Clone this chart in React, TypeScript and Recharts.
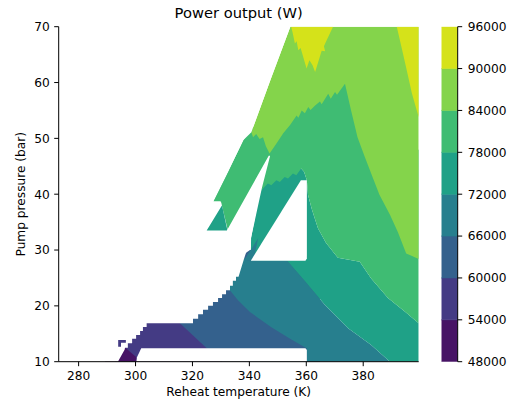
import React from "react";
import { ComposedChart, Scatter, XAxis, YAxis, ReferenceArea } from "recharts";

const FONT = "DejaVu Sans";

// contour levels (W) and the viridis colour of each filled band
const LEVELS = [48000, 54000, 60000, 66000, 72000, 78000, 84000, 90000, 96000];
const BAND_COLORS = ["#471365", "#443b84", "#34618d", "#277f8e", "#1fa187", "#3fbc73", "#84d44b", "#d5e21a"];
const NAN_COLOR = "#ffffff";

const T_DOMAIN: [number, number] = [273, 399.5];
const P_DOMAIN: [number, number] = [10, 70];
const T_TICKS = [280, 300, 320, 340, 360, 380];
const P_TICKS = [10, 20, 30, 40, 50, 60, 70];

type Pt = [number, number]; // [reheat temperature K, pump pressure bar]

// band outlines, painted in order (later ones on top)
const BAND1_BASE: Pt[] = [[292.8, 17.8], [322.6, 17.8], [330.4, 10], [292.8, 10]];
const BAND0: Pt[] = [[289.3, 13.0], [296.6, 12.4], [300.3, 10.8], [300.3, 10], [289.3, 10]];
const BAND2: Pt[] = [[315.6, 16.9], [315.6, 21.1], [340.2, 30.0], [364.8, 30.0], [364.8, 10], [330.1, 10]];
const BAND3: Pt[] = [
  [338.1, 28.6], [331.4, 24.6], [332.8, 23.0], [336.0, 21.0], [340.2, 18.9], [347.6, 16.2],
  [354.3, 14.1], [360.1, 12.4], [360.2, 10], [389.4, 10], [382.8, 13.0], [374.7, 16.0],
  [366.5, 20.2], [359.4, 24.5], [353.3, 28.1], [339.5, 28.1],
];
const BAND4: Pt[] = [
  [340.5, 28.1], [353.3, 28.1], [359.4, 24.5], [366.5, 20.2], [374.7, 16.0], [382.8, 13.0],
  [389.4, 10], [399.5, 10], [399.5, 16.9], [394.6, 19.0], [388.7, 21.4], [382.8, 24.9],
  [378.8, 27.9], [371.1, 28.6], [366.9, 31.3], [364.1, 33.9], [362.0, 37.2], [360.6, 39.9],
  [360.2, 42.5], [359.2, 44.0], [358.2, 44.6], [358.2, 46.1], [344.4, 46.1], [342.3, 36.8],
  [340.6, 32.2],
];
const BAND5: Pt[] = [
  [399.5, 16.9], [399.5, 47.9], [373.6, 60.5], [340.7, 51.9], [337.9, 49.7], [332.5, 44.0],
  [327.3, 38.7], [330.0, 38.7], [332.5, 33.4], [344.8, 41.0], [346.5, 41.9], [347.7, 41.6],
  [349.5, 42.5], [350.7, 42.2], [352.4, 43.1], [353.6, 42.8], [355.3, 43.7], [356.5, 43.4],
  [358.2, 44.6], [359.2, 44.0], [360.2, 42.5], [360.6, 39.9], [362.0, 37.2], [364.1, 33.9],
  [366.9, 31.3], [371.1, 28.6], [378.8, 27.9], [382.8, 24.9], [388.7, 21.4], [394.6, 19.0],
];
const BAND6: Pt[] = [
  [354.4, 70], [399.5, 70], [399.5, 28.4], [395.1, 29.4], [392.2, 33.2], [389.4, 36.3],
  [385.7, 39.9], [382.8, 43.7], [380.3, 47.0], [378.0, 50.2], [375.7, 55.1], [373.6, 59.8],
  [370.8, 57.8], [370.1, 58.3], [368.6, 57.1], [367.7, 58.0], [365.4, 56.1], [364.8, 56.6],
  [363.1, 55.9], [361.5, 55.1], [360.7, 55.6], [359.5, 54.5], [358.4, 55.0], [357.2, 53.7],
  [356.6, 54.1], [354.3, 52.4], [351.9, 50.9], [349.4, 49.0], [347.1, 47.3], [345.8, 48.6],
  [344.8, 50.2], [343.6, 49.9], [342.4, 50.8], [341.3, 50.2], [340.7, 51.1], [347.5, 60.6],
];
const BAND7_TOP: Pt[] = [
  [354.7, 70], [355.3, 68.7], [356.0, 67.0], [356.6, 67.4], [357.2, 65.8], [358.0, 66.2],
  [358.9, 64.6], [360.1, 62.5], [361.1, 64.0], [362.2, 63.1], [363.1, 61.9], [364.2, 63.7],
  [365.4, 65.7], [366.6, 65.6], [366.2, 66.5], [367.2, 67.6], [369.4, 70],
];
const BAND7_RIGHT: Pt[] = [[391.8, 70], [393.3, 66.7], [395.3, 62.2], [397.1, 58.1], [399.5, 53.8], [399.5, 70]];
const BAND4_ISLAND: Pt[] = [[330.3, 38.2], [332.3, 33.5], [332.3, 33.1], [322.6, 33.1], [327.9, 38.2]];
const BAND3_SPIKE: Pt[] = [[338.0, 28.1], [343.1, 32.1], [342.0, 29.5], [342.6, 28.1]];
const BAND1_SPECK: Pt[] = [[293.9, 13.9], [296.6, 13.9], [296.6, 13.4], [294.9, 13.4], [294.9, 12.7], [293.9, 12.7]];

// regions where the model gave no result (left blank)
const NAN_LEFT: Pt[] = [
  [273, 70], [354.4, 70], [347.5, 60.6], [340.7, 51.1], [337.9, 49.7], [332.5, 44.0],
  [327.3, 38.7], [329.7, 38.7], [330.4, 38.0], [325.0, 33.5], [332.1, 33.5], [346.8, 46.9],
  [347.3, 46.9], [344.4, 41.1], [340.6, 32.2], [338.1, 28.4], [336.2, 25.2], [335.3, 25.2],
  [335.3, 24.5], [334.2, 24.5], [334.2, 23.6], [333.2, 23.6], [333.2, 22.8], [331.8, 22.8],
  [331.8, 22.1], [330.4, 22.1], [330.4, 21.4], [329.0, 21.4], [329.0, 20.7], [327.2, 20.7],
  [327.2, 20.0], [325.5, 20.0], [325.5, 19.3], [323.7, 19.3], [323.7, 18.5], [322.0, 18.5],
  [322.0, 17.7], [320.2, 17.7], [320.2, 16.9], [303.9, 16.9], [303.9, 16.2], [302.6, 16.2],
  [302.6, 15.5], [301.6, 15.5], [301.6, 14.8], [300.2, 14.8], [300.2, 14.1], [298.8, 14.1],
  [298.8, 13.3], [297.3, 13.3], [297.3, 12.5], [296.3, 12.5], [296.2, 12.2], [293.8, 10],
  [273, 10],
];
const NAN_HOLE: Pt[] = [[340.5, 28.1], [358.1, 42.5], [360.2, 42.5], [360.2, 28.5], [359.7, 28.1]];
const NAN_STRIP: Pt[] = [[302.0, 12.4], [359.7, 12.4], [360.2, 12.1], [360.2, 10], [300.3, 10], [300.5, 10.8]];

// band index per layer, -1 = no data
const LAYERS: { name: string; band: number; pts: Pt[] }[] = [
  { name: "b1", band: 1, pts: BAND1_BASE },
  { name: "b0", band: 0, pts: BAND0 },
  { name: "b2", band: 2, pts: BAND2 },
  { name: "b3", band: 3, pts: BAND3 },
  { name: "b4", band: 4, pts: BAND4 },
  { name: "b5", band: 5, pts: BAND5 },
  { name: "b6", band: 6, pts: BAND6 },
  { name: "b7a", band: 7, pts: BAND7_TOP },
  { name: "b7b", band: 7, pts: BAND7_RIGHT },
  { name: "b4i", band: 4, pts: BAND4_ISLAND },
  { name: "b3s", band: 3, pts: BAND3_SPIKE },
  { name: "nanLeft", band: -1, pts: NAN_LEFT },
  { name: "nanHole", band: -1, pts: NAN_HOLE },
  { name: "nanStrip", band: -1, pts: NAN_STRIP },
  { name: "b1s", band: 1, pts: BAND1_SPECK },
];

// colorbar: one rectangle per band between consecutive levels
const CB_BANDS = BAND_COLORS.map((color, i) => ({
  color,
  pts: [
    { x: 0, y: LEVELS[i] },
    { x: 1, y: LEVELS[i] },
    { x: 1, y: LEVELS[i + 1] },
    { x: 0, y: LEVELS[i + 1] },
  ],
}));

const tickStyle = { fill: "#000", fontSize: 12.2, fontFamily: FONT };
const spine = { stroke: "#000", strokeWidth: 1 };
const noPoint = () => <g />;

const YTitle = (props: any) => {
  const vb = props.viewBox;
  const x = vb.x + 16.8;
  const y = vb.y + vb.height / 2;
  return (
    <text x={x} y={y} transform={`rotate(-90 ${x} ${y})`} textAnchor="middle" fill="#000" fontSize={12.2} fontFamily={FONT}>
      Pump pressure (bar)
    </text>
  );
};

export default function App() {
  return (
    <div style={{ position: "absolute", left: 0, top: 0, width: 512, height: 405, background: "#fff" }}>
      <div style={{ position: "absolute", left: 0, top: 0 }}>
        <ComposedChart width={512} height={405} margin={{ top: 26.7, right: 93.3, bottom: 7.3, left: 8.7 }}>
          {LAYERS.map((layer) => {
            const color = layer.band < 0 ? NAN_COLOR : BAND_COLORS[layer.band];
            return (
              <Scatter
                key={layer.name}
                data={layer.pts.map(([t, p]) => ({ t, p }))}
                dataKey="p"
                fill={color}
                line={{ fill: color, stroke: "none" }}
                shape={noPoint}
                legendType="none"
                isAnimationActive={false}
                zIndex={0}
              />
            );
          })}
          <XAxis
            dataKey="t"
            type="number"
            domain={T_DOMAIN}
            ticks={T_TICKS}
            allowDataOverflow
            height={36}
            tick={tickStyle}
            tickSize={4.5}
            tickMargin={5.5}
            axisLine={spine}
            tickLine={spine}
            label={{ value: "Reheat temperature (K)", position: "insideBottom", offset: 1.9, fill: "#000", fontSize: 12.2, fontFamily: FONT }}
          />
          <XAxis xAxisId="top" orientation="top" type="number" domain={T_DOMAIN} allowDataOverflow height={0} tick={false} tickLine={false} axisLine={spine} />
          <YAxis
            dataKey="p"
            type="number"
            domain={P_DOMAIN}
            ticks={P_TICKS}
            allowDataOverflow
            width={50}
            tick={tickStyle}
            tickSize={4.5}
            tickMargin={4.5}
            axisLine={spine}
            tickLine={spine}
            label={<YTitle />}
          />
          <YAxis yAxisId="right" orientation="right" type="number" domain={P_DOMAIN} allowDataOverflow width={0} tick={false} tickLine={false} axisLine={spine} />
          <ReferenceArea
            x1={T_DOMAIN[0]}
            x2={T_DOMAIN[1]}
            y1={P_DOMAIN[0]}
            y2={P_DOMAIN[1]}
            fill="none"
            stroke="none"
            ifOverflow="visible"
            label={{ value: "Power output (W)", position: "top", offset: 8.5, fill: "#000", fontSize: 14.7, fontFamily: FONT }}
          />
        </ComposedChart>
      </div>
      <div style={{ position: "absolute", left: 0, top: 0 }}>
        <ComposedChart width={512} height={405} margin={{ top: 26.7, right: 0, bottom: 43.3, left: 441.3 }}>
          {CB_BANDS.map((b) => (
            <Scatter
              key={b.color}
              data={b.pts}
              dataKey="y"
              fill={b.color}
              line={{ fill: b.color, stroke: b.color, strokeWidth: 0.6 }}
              shape={noPoint}
              legendType="none"
              isAnimationActive={false}
              zIndex={0}
            />
          ))}
          <XAxis dataKey="x" type="number" domain={[0, 1]} allowDataOverflow height={0} tick={false} tickLine={false} axisLine={spine} />
          <XAxis xAxisId="top" orientation="top" type="number" domain={[0, 1]} allowDataOverflow height={0} tick={false} tickLine={false} axisLine={spine} />
          <YAxis yAxisId="left" orientation="left" type="number" domain={[LEVELS[0], LEVELS[LEVELS.length - 1]]} allowDataOverflow width={0} tick={false} tickLine={false} axisLine={spine} />
          <YAxis
            dataKey="y"
            type="number"
            orientation="right"
            domain={[LEVELS[0], LEVELS[LEVELS.length - 1]]}
            ticks={LEVELS}
            allowDataOverflow
            width={54.3}
            tick={tickStyle}
            tickSize={4.5}
            tickMargin={5.5}
            axisLine={spine}
            tickLine={spine}
          />
        </ComposedChart>
      </div>
    </div>
  );
}
